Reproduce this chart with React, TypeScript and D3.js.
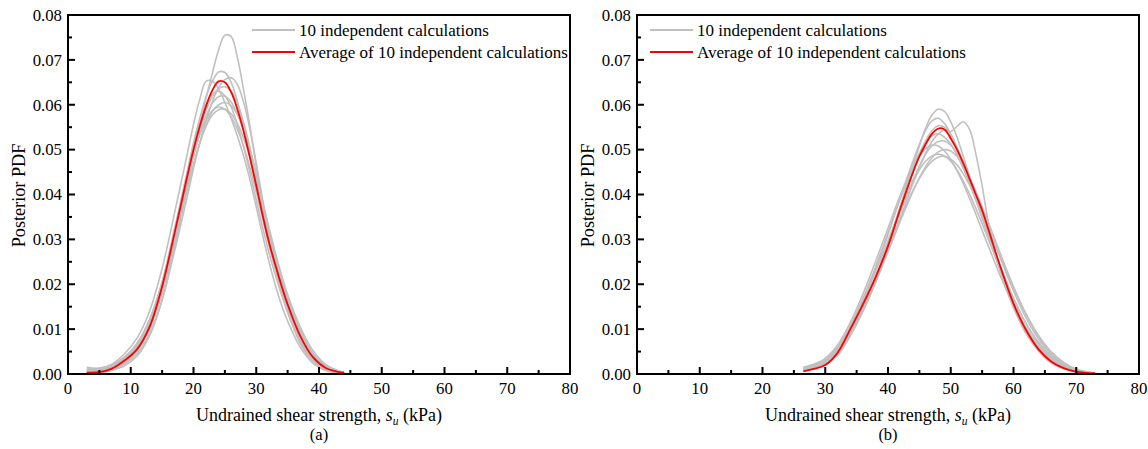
import React from "react";
import * as d3 from "d3";

// ---------- axis ticks ----------
const xMajorTicks = [0, 10, 20, 30, 40, 50, 60, 70, 80];
const xMinorTicks = [5, 15, 25, 35, 45, 55, 65, 75];
const yMajorTicks = [0, 0.01, 0.02, 0.03, 0.04, 0.05, 0.06, 0.07, 0.08];
const yMinorTicks = [0.005, 0.015, 0.025, 0.035, 0.045, 0.055, 0.065, 0.075];
const yTickLabels = ["0.00", "0.01", "0.02", "0.03", "0.04", "0.05", "0.06", "0.07", "0.08"];

const legendLabels = ["10 independent calculations", "Average of 10 independent calculations"];
const panelCaptions = ["(a)", "(b)"];

// ---------- panel (a): s_u grid and posterior PDFs ----------
const suA = [3, 5, 7, 9, 11, 13, 15, 17, 19, 20, 21, 22, 23, 24, 25, 26, 27, 28, 29, 30, 31, 32, 33, 34, 35, 37, 39, 41, 43, 44];

const avgA = [0.0003, 0.0004, 0.0012, 0.003, 0.0055, 0.0105, 0.0195, 0.0315, 0.044, 0.05, 0.0552, 0.0597, 0.0632, 0.0652, 0.065, 0.0628, 0.059, 0.054, 0.0482, 0.042, 0.0355, 0.0295, 0.0245, 0.0198, 0.0155, 0.0085, 0.0038, 0.0014, 0.0005, 0.0003];

const runA1 = [0.0002, 0.0003, 0.0008, 0.0018, 0.004, 0.0085, 0.0165, 0.0285, 0.042, 0.049, 0.0555, 0.0615, 0.067, 0.0722, 0.0755, 0.0752, 0.0705, 0.0632, 0.0552, 0.0462, 0.038, 0.0305, 0.024, 0.0185, 0.0138, 0.0068, 0.0025, 0.0008, 0.0003, 0.0002];
const runA2 = [0.0005, 0.0006, 0.0013, 0.003, 0.0058, 0.011, 0.0198, 0.032, 0.045, 0.0515, 0.057, 0.0618, 0.0652, 0.0673, 0.0672, 0.065, 0.0608, 0.055, 0.0485, 0.0418, 0.035, 0.029, 0.0235, 0.0185, 0.0142, 0.0075, 0.0032, 0.0012, 0.0004, 0.0002];
const runA3 = [0.0012, 0.0012, 0.0022, 0.0045, 0.008, 0.014, 0.0235, 0.036, 0.049, 0.0556, 0.0612, 0.0652, 0.0653, 0.0635, 0.0605, 0.057, 0.053, 0.0485, 0.0432, 0.0372, 0.031, 0.0252, 0.02, 0.0155, 0.0118, 0.006, 0.0025, 0.001, 0.0004, 0.0002];
const runA4 = [0.0003, 0.0004, 0.0009, 0.0022, 0.0045, 0.009, 0.0165, 0.0275, 0.0395, 0.0458, 0.0515, 0.0565, 0.0607, 0.0638, 0.0656, 0.066, 0.0645, 0.0605, 0.0545, 0.047, 0.039, 0.0318, 0.0262, 0.0212, 0.0168, 0.0095, 0.0045, 0.0017, 0.0006, 0.0003];
const runA5 = [0.0008, 0.0008, 0.0016, 0.0034, 0.0062, 0.0112, 0.0195, 0.031, 0.043, 0.049, 0.0543, 0.0587, 0.0618, 0.0636, 0.064, 0.063, 0.0603, 0.056, 0.0505, 0.044, 0.0372, 0.0308, 0.0252, 0.0203, 0.016, 0.0092, 0.0042, 0.0016, 0.0006, 0.0003];
const runA6 = [0.0004, 0.0005, 0.0013, 0.0031, 0.0062, 0.0118, 0.0205, 0.0325, 0.045, 0.051, 0.0562, 0.06, 0.0624, 0.063, 0.062, 0.0595, 0.0555, 0.0505, 0.0448, 0.0388, 0.0328, 0.0272, 0.0222, 0.0178, 0.0138, 0.0072, 0.003, 0.0011, 0.0004, 0.0002];
const runA7 = [0.0015, 0.0013, 0.002, 0.0038, 0.0068, 0.012, 0.02, 0.031, 0.0428, 0.0485, 0.0535, 0.0575, 0.0603, 0.0618, 0.0619, 0.0606, 0.058, 0.0543, 0.0497, 0.0443, 0.0385, 0.0328, 0.0273, 0.0222, 0.0177, 0.0105, 0.0053, 0.0022, 0.0008, 0.0004];
const runA8 = [0.0003, 0.0004, 0.001, 0.0025, 0.0052, 0.01, 0.018, 0.029, 0.041, 0.0465, 0.0515, 0.0556, 0.0585, 0.06, 0.0605, 0.0598, 0.0578, 0.0545, 0.05, 0.0445, 0.0382, 0.0318, 0.0258, 0.0203, 0.0155, 0.0082, 0.0036, 0.0013, 0.0005, 0.0002];
const runA9 = [0.0006, 0.0007, 0.0016, 0.0036, 0.0068, 0.0122, 0.0205, 0.0318, 0.0435, 0.0488, 0.0533, 0.0566, 0.0587, 0.0595, 0.059, 0.0573, 0.0545, 0.0507, 0.046, 0.0406, 0.0348, 0.0292, 0.024, 0.0192, 0.015, 0.0082, 0.0037, 0.0014, 0.0005, 0.0002];
const runA10 = [0.001, 0.001, 0.0018, 0.0035, 0.0065, 0.0115, 0.0192, 0.03, 0.0415, 0.0468, 0.0515, 0.0552, 0.0577, 0.0589, 0.059, 0.058, 0.0558, 0.0525, 0.0483, 0.0432, 0.0376, 0.032, 0.0266, 0.0217, 0.0172, 0.0098, 0.0047, 0.0019, 0.0007, 0.0003];

// ---------- panel (b): s_u grid and posterior PDFs ----------
const suB = [26.5, 28, 30, 32, 34, 36, 38, 40, 42, 44, 45, 46, 47, 48, 49, 50, 51, 52, 53, 54, 55, 56, 58, 60, 62, 64, 66, 68, 70, 72, 73];

const avgB = [0.0006, 0.0011, 0.002, 0.0048, 0.01, 0.0155, 0.0215, 0.0285, 0.037, 0.045, 0.0485, 0.0512, 0.0535, 0.0547, 0.0545, 0.0525, 0.05, 0.047, 0.0435, 0.04, 0.0365, 0.0322, 0.0235, 0.0157, 0.0098, 0.0055, 0.0028, 0.0013, 0.0005, 0.0002, 0.0002];

const runB1 = [0.001, 0.0014, 0.0024, 0.0045, 0.0088, 0.014, 0.0205, 0.0283, 0.0375, 0.0465, 0.0508, 0.0548, 0.0577, 0.059, 0.0585, 0.0562, 0.0528, 0.0485, 0.044, 0.0395, 0.035, 0.0308, 0.0225, 0.015, 0.0092, 0.0052, 0.0026, 0.0012, 0.0005, 0.0002, 0.0001];
const runB2 = [0.0012, 0.0016, 0.0028, 0.0055, 0.0102, 0.0162, 0.0232, 0.031, 0.0395, 0.0475, 0.0512, 0.0543, 0.0564, 0.057, 0.0558, 0.0535, 0.0503, 0.0466, 0.0428, 0.0388, 0.0347, 0.0307, 0.0228, 0.0158, 0.01, 0.0058, 0.003, 0.0014, 0.0006, 0.0002, 0.0001];
const runB3 = [0.0008, 0.0011, 0.002, 0.0042, 0.0085, 0.014, 0.0203, 0.0275, 0.035, 0.0425, 0.046, 0.0492, 0.0518, 0.0535, 0.0544, 0.054, 0.0552, 0.0562, 0.0545, 0.049, 0.042, 0.0338, 0.0225, 0.0148, 0.009, 0.0051, 0.0025, 0.0012, 0.0005, 0.0002, 0.0001];
const runB4 = [0.0014, 0.0019, 0.0032, 0.006, 0.0108, 0.0168, 0.0238, 0.0315, 0.0392, 0.0462, 0.0492, 0.0515, 0.0531, 0.0535, 0.0528, 0.0512, 0.0488, 0.0458, 0.0424, 0.0388, 0.035, 0.0312, 0.0238, 0.017, 0.0112, 0.0068, 0.0037, 0.0018, 0.0008, 0.0003, 0.0002];
const runB5 = [0.001, 0.0014, 0.0025, 0.005, 0.0093, 0.015, 0.0215, 0.0287, 0.0362, 0.0432, 0.0463, 0.049, 0.0508, 0.0518, 0.0519, 0.051, 0.0492, 0.0467, 0.0436, 0.0402, 0.0366, 0.033, 0.0255, 0.0185, 0.0125, 0.0078, 0.0044, 0.0022, 0.0009, 0.0003, 0.0002];
const runB6 = [0.0015, 0.0021, 0.0035, 0.0065, 0.0115, 0.0178, 0.025, 0.0325, 0.04, 0.0462, 0.0485, 0.0502, 0.051, 0.0508, 0.0497, 0.0478, 0.0453, 0.0424, 0.0391, 0.0356, 0.032, 0.0285, 0.0215, 0.0153, 0.0102, 0.0063, 0.0035, 0.0017, 0.0007, 0.0003, 0.0001];
const runB7 = [0.0009, 0.0013, 0.0023, 0.0046, 0.0088, 0.0142, 0.0205, 0.0272, 0.0342, 0.0408, 0.0437, 0.0462, 0.0482, 0.0495, 0.05, 0.0497, 0.0485, 0.0465, 0.0438, 0.0407, 0.0373, 0.0338, 0.0265, 0.0195, 0.0133, 0.0083, 0.0047, 0.0024, 0.001, 0.0004, 0.0002];
const runB8 = [0.0013, 0.0018, 0.003, 0.0057, 0.0102, 0.016, 0.0227, 0.0297, 0.0368, 0.043, 0.0455, 0.0474, 0.0486, 0.049, 0.0486, 0.0474, 0.0455, 0.043, 0.0401, 0.0369, 0.0335, 0.03, 0.023, 0.0167, 0.0113, 0.0071, 0.004, 0.002, 0.0008, 0.0003, 0.0002];
const runB9 = [0.0012, 0.0017, 0.0028, 0.0053, 0.0095, 0.015, 0.0213, 0.028, 0.0348, 0.041, 0.0436, 0.0458, 0.0474, 0.0483, 0.0485, 0.0479, 0.0466, 0.0446, 0.0421, 0.0392, 0.036, 0.0326, 0.0258, 0.0192, 0.0134, 0.0086, 0.005, 0.0026, 0.0011, 0.0004, 0.0002];
const runB10 = [0.0008, 0.0012, 0.0022, 0.0045, 0.009, 0.0148, 0.0215, 0.029, 0.0375, 0.0455, 0.049, 0.052, 0.0542, 0.0553, 0.055, 0.0533, 0.0505, 0.047, 0.0432, 0.0392, 0.0352, 0.0312, 0.0232, 0.016, 0.0102, 0.006, 0.0032, 0.0015, 0.0006, 0.0002, 0.0001];

const runsA = [runA1, runA2, runA3, runA4, runA5, runA6, runA7, runA8, runA9, runA10];
const runsB = [runB1, runB2, runB3, runB4, runB5, runB6, runB7, runB8, runB9, runB10];

// ---------- layout / style ----------
const W = 1148;
const H = 449;
const PLOT_W = 502;
const PLOT_TOP = 15;
const PLOT_BOTTOM = 374;
const FONT = "Liberation Serif";
const GRAY = "#c0c0c0";
const RED = "#ff0000";

type PanelProps = {
  x0: number;
  grid: number[];
  runs: number[][];
  avg: number[];
  legendX: number;
  caption: string;
};

function Panel({ x0, grid, runs, avg, legendX, caption }: PanelProps) {
  const x = d3.scaleLinear().domain([0, 80]).range([x0, x0 + PLOT_W]);
  const y = d3.scaleLinear().domain([0, 0.08]).range([PLOT_BOTTOM, PLOT_TOP]);

  const line = d3
    .line<number>()
    .x((_, i) => x(grid[i]))
    .y((d) => y(d))
    .curve(d3.curveCatmullRom.alpha(0.5));

  const cx = (x(0) + x(80)) / 2;
  const cy = (y(0) + y(0.08)) / 2;
  const txt = { fontFamily: FONT, fill: "#000" } as const;

  return (
    <g>
      {/* individual posterior curves */}
      {runs.map((r, i) => (
        <path key={i} d={line(r) ?? ""} fill="none" stroke={GRAY} strokeWidth={1.6} />
      ))}
      {/* averaged curve */}
      <path d={line(avg) ?? ""} fill="none" stroke={RED} strokeWidth={1.8} />

      {/* frame */}
      <rect
        x={x(0)}
        y={y(0.08)}
        width={x(80) - x(0)}
        height={y(0) - y(0.08)}
        fill="none"
        stroke="#000"
        strokeWidth={2}
      />

      {/* x ticks (inward) */}
      {xMajorTicks.map((t) => (
        <g key={"xm" + t}>
          <line x1={x(t)} x2={x(t)} y1={y(0)} y2={y(0) - 7} stroke="#000" strokeWidth={2} />
          <text x={x(t)} y={y(0) + 20} textAnchor="middle" style={{ ...txt, fontSize: 16.8 }}>
            {t}
          </text>
        </g>
      ))}
      {xMinorTicks.map((t) => (
        <line key={"xn" + t} x1={x(t)} x2={x(t)} y1={y(0)} y2={y(0) - 4} stroke="#000" strokeWidth={2} />
      ))}

      {/* y ticks (inward) */}
      {yMajorTicks.map((t, i) => (
        <g key={"ym" + t}>
          <line x1={x(0)} x2={x(0) + 7} y1={y(t)} y2={y(t)} stroke="#000" strokeWidth={2} />
          <text x={x(0) - 6} y={y(t) + 5.8} textAnchor="end" style={{ ...txt, fontSize: 16.8 }}>
            {yTickLabels[i]}
          </text>
        </g>
      ))}
      {yMinorTicks.map((t) => (
        <line key={"yn" + t} x1={x(0)} x2={x(0) + 4} y1={y(t)} y2={y(t)} stroke="#000" strokeWidth={2} />
      ))}

      {/* axis titles */}
      <text
        transform={`translate(${x0 - 43},${cy + 1}) rotate(-90)`}
        textAnchor="middle"
        style={{ ...txt, fontSize: 18.2 }}
      >
        Posterior PDF
      </text>
      <text x={cx} y={421} textAnchor="middle" style={{ ...txt, fontSize: 18 }}>
        Undrained shear strength,{" "}
        <tspan fontStyle="italic">s</tspan>
        <tspan fontStyle="italic" fontSize={11.5} dy={3.5}>
          u
        </tspan>
        <tspan dy={-3.5}> (kPa)</tspan>
      </text>
      <text x={cx} y={440} textAnchor="middle" style={{ ...txt, fontSize: 16.5 }}>
        {caption}
      </text>

      {/* legend */}
      <line x1={legendX} x2={legendX + 43} y1={30} y2={30} stroke={GRAY} strokeWidth={1.8} />
      <text x={legendX + 47} y={35.8} style={{ ...txt, fontSize: 17 }}>
        {legendLabels[0]}
      </text>
      <line x1={legendX} x2={legendX + 43} y1={52} y2={52} stroke={RED} strokeWidth={1.8} />
      <text x={legendX + 47} y={57.8} style={{ ...txt, fontSize: 17 }}>
        {legendLabels[1]}
      </text>
    </g>
  );
}

export default function App() {
  return (
    <div style={{ position: "fixed", left: 0, top: 0 }}>
      <svg width={W} height={H} viewBox={`0 0 ${W} ${H}`} style={{ display: "block", background: "#fff" }}>
        <rect x={0} y={0} width={W} height={H} fill="#fff" />
        <Panel x0={68} grid={suA} runs={runsA} avg={avgA} legendX={252} caption={panelCaptions[0]} />
        <Panel x0={637} grid={suB} runs={runsB} avg={avgB} legendX={650} caption={panelCaptions[1]} />
      </svg>
    </div>
  );
}
